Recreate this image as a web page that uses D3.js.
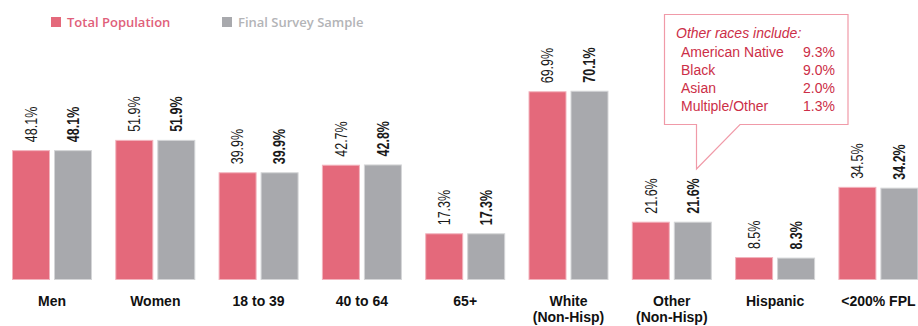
<!DOCTYPE html>
<html>
<head>
<meta charset="utf-8">
<script src="https://cdn.jsdelivr.net/npm/d3@7"></script>
<style>
  html, body { margin: 0; padding: 0; background: #fff; }
  svg { display: block; }
</style>
</head>
<body>
<svg id="chart" width="918" height="326"></svg>
<script>
// Population composition vs. survey sample
const categories = ["Men", "Women", "18 to 39", "40 to 64", "65+", "White\n(Non-Hisp)", "Other\n(Non-Hisp)", "Hispanic", "<200% FPL"];
const totalPopulation = [48.1, 51.9, 39.9, 42.7, 17.3, 69.9, 21.6, 8.5, 34.5];
const surveySample   = [48.1, 51.9, 39.9, 42.8, 17.3, 70.1, 21.6, 8.3, 34.2];
const seriesNames = ["Total Population", "Final Survey Sample"];

// Breakdown of "Other" races shown in the callout
const otherRaces = ["American Native", "Black", "Asian", "Multiple/Other"];
const otherRaceValues = [9.3, 9.0, 2.0, 1.3];

const colors = { fill: ["#e4697b", "#a8a9ad"], edge: ["#f2b3bd", "#d4d5d7"], legend: ["#e0607a", "#b3b4b7"] };

const svg = d3.select("#chart");

const step = 103.3;
const x = d3.scaleBand()
  .domain(categories)
  .range([12 - step * 0.1128, 12 - step * 0.1128 + step * categories.length])
  .paddingInner(0.2256)
  .paddingOuter(0.1128);

const xs = d3.scaleBand()
  .domain([0, 1])
  .range([0, x.bandwidth()])
  .paddingInner(4 / 42)
  .paddingOuter(0);

const y = d3.scaleLinear().domain([0, 100]).range([280, 10]);

const rows = categories.map((c, i) => ({ cat: c, vals: [totalPopulation[i], surveySample[i]] }));

const groups = svg.append("g").selectAll("g")
  .data(rows)
  .join("g")
  .attr("transform", d => `translate(${x(d.cat)},0)`);

groups.selectAll("rect")
  .data(d => d.vals.map((v, s) => ({ v, s })))
  .join("rect")
  .attr("x", d => xs(d.s) + 0.5)
  .attr("y", d => y(d.v) + 0.5)
  .attr("width", xs.bandwidth() - 1)
  .attr("height", d => y(0) - y(d.v) - 1)
  .attr("fill", d => colors.fill[d.s])
  .attr("stroke", d => colors.edge[d.s])
  .attr("stroke-width", 1);

// Rotated value labels above each bar (reads bottom-to-top, slightly condensed)
const squeeze = 0.78;
groups.selectAll("text.val")
  .data(d => d.vals.map((v, s) => ({ v, s })))
  .join("text")
  .attr("class", "val")
  .attr("transform", d => `matrix(0,${-squeeze},1,0,${xs(d.s) + xs.bandwidth() / 2},${y(d.v) - 8})`)
  .attr("dy", "0.36em")
  .attr("text-anchor", "start")
  .attr("font-family", "'Liberation Sans', Arial, sans-serif")
  .attr("font-size", 16)
  .attr("font-weight", d => d.s === 1 ? "bold" : "normal")
  .attr("fill", "#1a1a1a")
  .text(d => d.v.toFixed(1) + "%");

// Category labels (may wrap to two lines)
groups.append("text")
  .attr("x", x.bandwidth() / 2)
  .attr("y", 306)
  .attr("text-anchor", "middle")
  .attr("font-family", "'Liberation Sans', Arial, sans-serif")
  .attr("font-size", 14)
  .attr("font-weight", "bold")
  .attr("fill", "#111")
  .selectAll("tspan")
  .data(d => d.cat.split("\n"))
  .join("tspan")
  .attr("x", x.bandwidth() / 2)
  .attr("dy", (d, i) => i === 0 ? 0 : 16)
  .text(d => d);

// Legend
const legendX = [51, 222];
const legend = svg.append("g").selectAll("g")
  .data(seriesNames)
  .join("g")
  .attr("transform", (d, i) => `translate(${legendX[i]},17)`);
legend.append("rect")
  .attr("width", 10).attr("height", 10)
  .attr("fill", (d, i) => colors.fill[i]);
legend.append("text")
  .attr("x", 16).attr("y", 9.5)
  .attr("font-family", "'Open Sans', sans-serif")
  .attr("font-size", 13)
  .attr("font-weight", 600)
  .attr("fill", (d, i) => colors.legend[i])
  .text(d => d);

// Callout describing the "Other" races
const callout = svg.append("g");
const bx0 = 664.5, bx1 = 848, by0 = 14.5, by1 = 124.5;
const tipX = 696.5, tipY = 169;
callout.append("path")
  .attr("d", `M${bx0},${by0}H${bx1}V${by1}H740L${tipX},${tipY}V${by1}H${bx0}Z`)
  .attr("fill", "#fff")
  .attr("stroke", "#f09aa8")
  .attr("stroke-width", 1.2);
callout.append("text")
  .attr("x", 676).attr("y", 38)
  .attr("font-family", "'Liberation Sans', Arial, sans-serif")
  .attr("font-size", 14)
  .attr("font-style", "italic")
  .attr("fill", "#cc2e47")
  .text("Other races include:");
const crow = callout.selectAll("g.row")
  .data(otherRaces.map((r, i) => ({ r, v: otherRaceValues[i], i })))
  .join("g")
  .attr("class", "row")
  .attr("transform", d => `translate(0,${57 + d.i * 18})`);
crow.append("text")
  .attr("x", 681)
  .attr("font-family", "'Liberation Sans', Arial, sans-serif")
  .attr("font-size", 14)
  .attr("fill", "#cc2e47")
  .text(d => d.r);
crow.append("text")
  .attr("x", 835)
  .attr("text-anchor", "end")
  .attr("font-family", "'Liberation Sans', Arial, sans-serif")
  .attr("font-size", 14)
  .attr("fill", "#cc2e47")
  .text(d => d.v.toFixed(1) + "%");
</script>
</body>
</html>
